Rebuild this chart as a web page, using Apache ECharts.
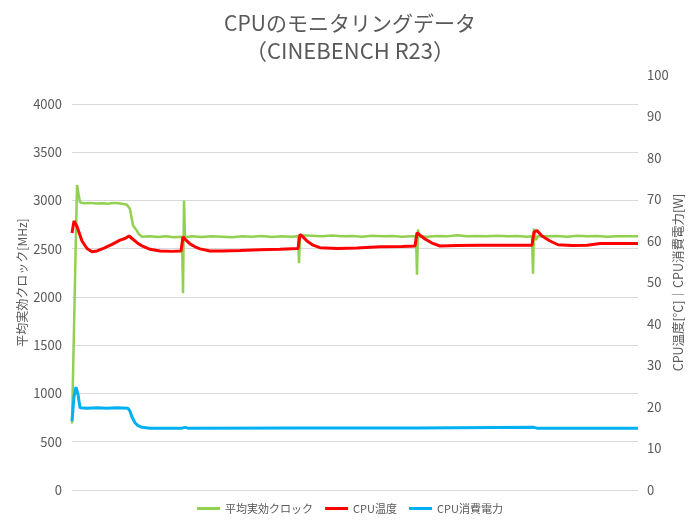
<!DOCTYPE html>
<html>
<head>
<meta charset="utf-8">
<script src="https://cdn.jsdelivr.net/npm/echarts@6/dist/echarts.min.js"></script>
<style>html,body{margin:0;padding:0;background:#fff}#c{width:700px;height:525px}</style>
</head>
<body>
<div id="c"></div>
<script>
// time index (sample), value
const clockData = [[0,690],[5,3160],[8,2980],[12,2972],[18,2975],[24,2968],[30,2972],[36,2965],[42,2975],[48,2968],[52,2962],[55,2955],[56,2950],[58,2910],[61,2740],[64,2700],[67,2650],[70,2625],[78,2630],[86,2622],[94,2628],[102,2620],[110,2625],[111,2040],[112,3000],[113,2620],[120,2628],[130,2622],[140,2630],[150,2625],[160,2618],[170,2630],[180,2625],[190,2632],[200,2622],[210,2628],[220,2625],[226,2628],[227,2350],[228,2640],[230,2630],[240,2635],[250,2628],[260,2638],[270,2630],[280,2632],[290,2625],[300,2635],[310,2628],[320,2632],[330,2625],[340,2630],[344,2628],[345,2230],[346,2700],[347,2630],[355,2625],[365,2632],[375,2628],[385,2640],[395,2630],[404,2632],[405,2650],[406,2632],[415,2628],[425,2635],[435,2630],[445,2632],[455,2625],[460,2630],[461,2240],[462,2710],[464,2590],[466,2630],[475,2628],[485,2632],[495,2625],[505,2635],[515,2628],[525,2632],[535,2625],[545,2630],[555,2628],[566,2630]];
const tempData = [[0,61.9],[2,64.8],[5,63.5],[10,60.0],[15,58.2],[20,57.4],[25,57.6],[32,58.3],[40,59.2],[48,60.2],[53,60.6],[57,61.2],[60,60.6],[65,59.6],[70,58.8],[78,58.0],[88,57.6],[100,57.5],[109,57.6],[110,57.7],[111,61.0],[114,60.2],[118,59.3],[123,58.6],[128,58.1],[138,57.6],[150,57.6],[168,57.7],[188,57.9],[208,58.0],[226,58.2],[227,58.3],[228,61.6],[231,61.0],[235,60.0],[241,59.0],[248,58.4],[265,58.2],[285,58.3],[308,58.6],[330,58.7],[343,58.8],[344,58.9],[345,62.0],[348,61.4],[353,60.5],[360,59.5],[368,58.8],[385,58.9],[408,59.0],[435,59.0],[460,59.0],[461,59.1],[462,62.2],[465,62.5],[470,61.2],[478,60.0],[486,59.1],[500,58.9],[515,59.0],[528,59.4],[545,59.4],[566,59.4]];
const powerData = [[0,16.6],[2,22.5],[4,24.8],[5,25.1],[6,23.0],[8,19.8],[15,19.7],[25,19.8],[35,19.7],[45,19.8],[56,19.7],[58,19.0],[60,17.6],[63,16.2],[66,15.5],[70,15.1],[78,14.9],[110,14.9],[113,15.1],[116,14.9],[228,14.95],[345,14.95],[462,15.1],[465,14.9],[566,14.9]];
const seriesNames = ['平均実効クロック','CPU温度','CPU消費電力'];
const titleLine1 = 'CPUのモニタリングデータ';
const titleLine2 = '（CINEBENCH R23）';
const leftName = '平均実効クロック[MHz]';
const rightName = 'CPU温度[℃]｜CPU消費電力[W]';

const FONT = '"Noto Sans CJK JP", "Noto Sans", sans-serif';
const GRAY = '#595959';
const chart = echarts.init(document.getElementById('c'), null, {renderer: 'canvas'});
chart.setOption({
  animation: false,
  textStyle: {fontFamily: FONT},
  title: {
    text: '{a|' + titleLine1 + '}\n{b|' + titleLine2 + '}', left: 'center', top: 5,
    textStyle: {
      color: GRAY, fontWeight: 'normal', fontFamily: FONT,
      rich: {
        a: {fontSize: 21, lineHeight: 27, color: GRAY, fontFamily: FONT, align: 'center'},
        b: {fontSize: 22, lineHeight: 28, color: GRAY, fontFamily: FONT, align: 'center'}
      }
    }
  },
  legend: {
    bottom: 6, left: 'center', icon: 'rect', itemWidth: 23, itemHeight: 3, itemGap: 12,
    textStyle: {fontSize: 11, color: GRAY, fontFamily: FONT},
    data: seriesNames
  },
  grid: {left: 72, right: 62, top: 75, bottom: 35, containLabel: false},
  xAxis: {type: 'value', min: 0, max: 566, show: false},
  yAxis: [{
    type: 'value', min: 0, max: 4300, interval: 500, position: 'left',
    name: leftName, nameLocation: 'middle', nameRotate: 90, nameGap: 44, nameMoveOverlap: false,
    nameTextStyle: {fontSize: 12, color: GRAY, fontFamily: FONT},
    axisLine: {show: false}, axisTick: {show: false},
    axisLabel: {fontSize: 13, color: GRAY, margin: 10, formatter: v => (v % 500 === 0 ? String(v) : '')},
    splitLine: {show: true, showMaxLine: false, lineStyle: {color: '#d9d9d9', width: 1}}
  }, {
    type: 'value', min: 0, max: 100, interval: 10, position: 'right',
    name: rightName, nameLocation: 'middle', nameRotate: 90, nameGap: 34, nameMoveOverlap: false,
    nameTextStyle: {fontSize: 12.5, color: GRAY, fontFamily: FONT},
    axisLine: {show: false}, axisTick: {show: false},
    axisLabel: {fontSize: 13, color: GRAY, margin: 9},
    splitLine: {show: false}
  }],
  series: [{
    name: seriesNames[0], type: 'line', yAxisIndex: 0, data: clockData, showSymbol: false,
    lineStyle: {color: '#92d050', width: 2.5}, itemStyle: {color: '#92d050'}
  }, {
    name: seriesNames[1], type: 'line', yAxisIndex: 1, data: tempData, showSymbol: false,
    lineStyle: {color: '#ff0000', width: 3}, itemStyle: {color: '#ff0000'}
  }, {
    name: seriesNames[2], type: 'line', yAxisIndex: 1, data: powerData, showSymbol: false,
    lineStyle: {color: '#00b0f0', width: 3}, itemStyle: {color: '#00b0f0'}
  }]
});
</script>
</body>
</html>
